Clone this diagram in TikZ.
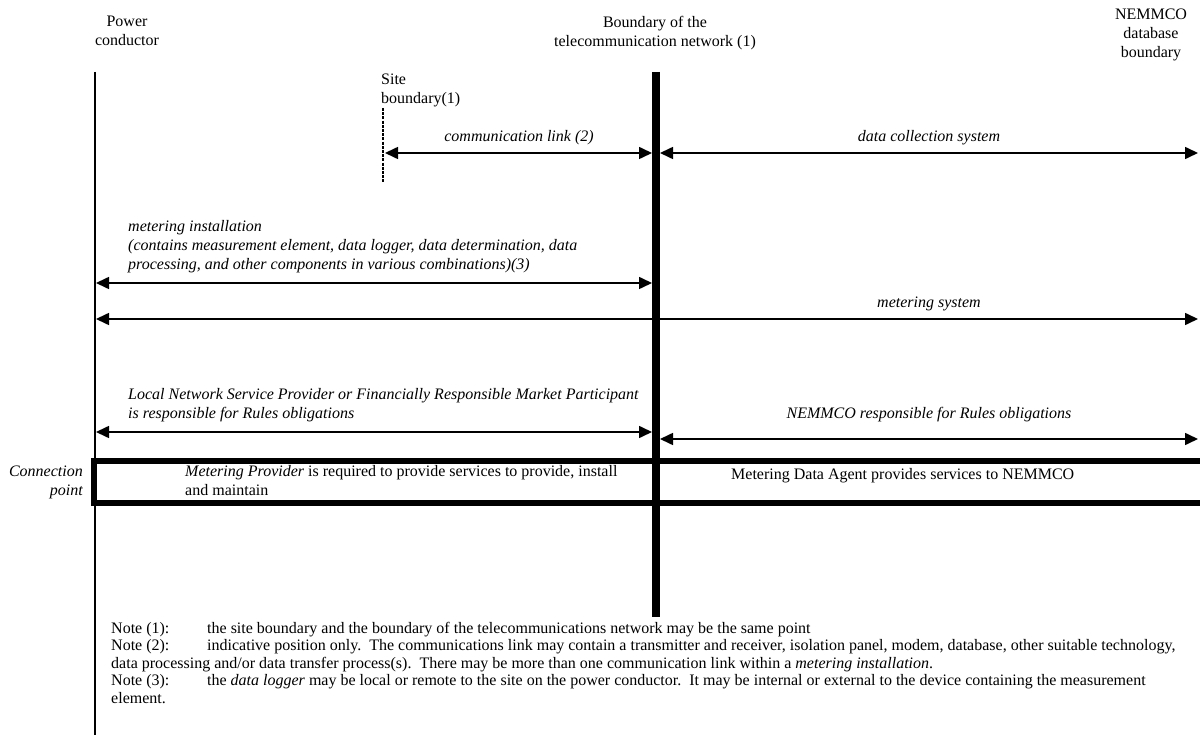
\documentclass[tikz,border=0pt]{standalone}
\usepackage{fontspec}
\setmainfont{Liberation Serif}
\usetikzlibrary{arrows.meta}

\begin{document}
\begin{tikzpicture}[x=1pt, y=-1pt,
    txt/.style={font=\fontsize{16}{19}\selectfont, inner sep=0pt},
    lab/.style={font=\fontsize{16}{19}\selectfont\itshape, inner sep=0pt},
    twoway/.style={line width=1.6pt, {Triangle[length=13pt,width=12pt]}-{Triangle[length=13pt,width=12pt]}},
    border/.style={line width=6pt, line join=miter}]
  \useasboundingbox (0,0) rectangle (1200,735);

  % Boundary lines
  \coordinate (pc-top) at (95,72);
  \coordinate (pc-bot) at (95,735);
  \coordinate (tn-top) at (656,72);
  \coordinate (tn-bot) at (656,617);
  \coordinate (sb-top) at (383,108);
  \coordinate (sb-bot) at (383,183);
  \draw[line width=2pt] (pc-top) -- (pc-bot);
  \draw[line width=8pt] (tn-top) -- (tn-bot);
  \draw[line width=2.5pt, dash pattern=on 3pt off 1.2pt] (sb-top) -- (sb-bot);

  % Headings (base = last line)
  \node[txt, align=center, anchor=base] (pc) at (127,46) {Power\\conductor};
  \node[txt, align=center, anchor=base] (tn) at (655,47) {Boundary of the\\telecommunication network (1)};
  \node[txt, align=center, anchor=base] (db) at (1151,58) {NEMMCO\\database\\boundary};
  \node[txt, align=left, anchor=base west] (sb) at (381,104) {Site\\boundary(1)};

  % Arrow end points
  \coordinate (cl-w) at (385,153);  \coordinate (cl-e) at (652,153);
  \coordinate (dc-w) at (660,153);  \coordinate (dc-e) at (1198,153);
  \coordinate (mi-w) at (96,283);   \coordinate (mi-e) at (652,283);
  \coordinate (ms-w) at (96,319);   \coordinate (ms-e) at (1198,319);
  \coordinate (lr-w) at (96,432);   \coordinate (lr-e) at (652,432);
  \coordinate (nr-w) at (660,439);  \coordinate (nr-e) at (1198,439);

  \draw[twoway] (cl-w) -- (cl-e);
  \draw[twoway] (dc-w) -- (dc-e);
  \draw[twoway] (mi-w) -- (mi-e);
  \draw[twoway] (ms-w) -- (ms-e);
  \draw[twoway] (lr-w) -- (lr-e);
  \draw[twoway] (nr-w) -- (nr-e);

  % Arrow labels
  \node[lab, anchor=base] (cl) at (519,142) {communication link (2)};
  \node[lab, anchor=base] (dc) at (929,142) {data collection system};
  \node[lab, align=left, anchor=base west] (mi) at (128,270)
    {metering installation\\(contains measurement element, data logger, data determination, data\\processing, and other components in various combinations)(3)};
  \node[lab, anchor=base] (ms) at (929,308) {metering system};
  \node[lab, align=left, anchor=base west] (lr) at (128,418)
    {Local Network Service Provider or Financially Responsible Market Participant\\is responsible for Rules obligations};
  \node[lab, anchor=base] (nr) at (929,418) {NEMMCO responsible for Rules obligations};

  % Service box
  \draw[border] (1200,461) -- (94,461) -- (94,503) -- (1200,503);
  \node[lab, align=right, anchor=base east] (cp) at (83,495) {Connection\\point};
  \node[txt, align=left, anchor=base west] (mp) at (185,495)
    {\textit{Metering Provider} is required to provide services to provide, install\\and maintain};
  \node[txt, anchor=base west] (md) at (731,479) {Metering Data Agent provides services to NEMMCO};

  % Notes
  \node[font=\fontsize{16}{17.5}\selectfont, inner sep=0pt, align=left, anchor=base west] (notes) at (111,703)
    {\makebox[96pt][l]{Note (1):}the site boundary and the boundary of the telecommunications network may be the same point\\
     \makebox[96pt][l]{Note (2):}indicative position only.\ \ The communications link may contain a transmitter and receiver, isolation panel, modem, database, other suitable technology,\\
     data processing and/or data transfer process(s).\ \ There may be more than one communication link within a \textit{metering installation}.\\
     \makebox[96pt][l]{Note (3):}the \textit{data logger} may be local or remote to the site on the power conductor.\ \ It may be internal or external to the device containing the measurement\\
     element.};
\end{tikzpicture}
\end{document}
